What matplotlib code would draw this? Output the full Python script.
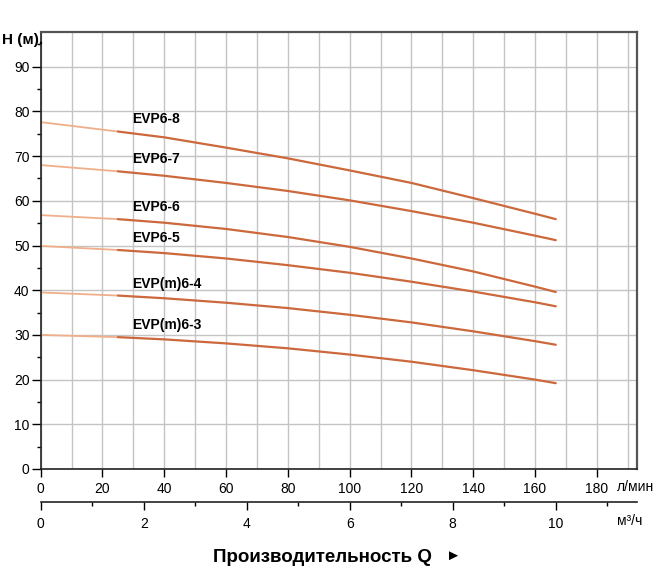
import matplotlib
matplotlib.use("Agg")
import matplotlib.pyplot as plt
from matplotlib.ticker import MultipleLocator

plt.rcParams['font.family'] = ['Liberation Sans', 'DejaVu Sans']

# flow in l/min, heads in m
flow = [0, 25, 40, 60, 80, 100, 120, 140, 160, 166.7]
models = ['EVP6-8', 'EVP6-7', 'EVP6-6', 'EVP6-5', 'EVP(m)6-4', 'EVP(m)6-3']
h_68 = [77.6, 75.5, 74.2, 71.9, 69.5, 66.8, 64.0, 60.6, 57.1, 55.9]
h_67 = [68.0, 66.6, 65.6, 64.0, 62.2, 60.1, 57.7, 55.1, 52.2, 51.2]
h_66 = [56.8, 55.9, 55.1, 53.7, 51.9, 49.7, 47.1, 44.2, 40.8, 39.6]
h_65 = [49.9, 49.0, 48.3, 47.1, 45.6, 43.9, 41.9, 39.7, 37.3, 36.4]
h_64 = [39.5, 38.8, 38.2, 37.2, 36.0, 34.5, 32.8, 30.8, 28.6, 27.8]
h_63 = [30.0, 29.5, 29.0, 28.1, 27.0, 25.6, 24.0, 22.1, 20.0, 19.2]
heads = [h_68, h_67, h_66, h_65, h_64, h_63]

x_ticks = [0, 20, 40, 60, 80, 100, 120, 140, 160, 180]
y_ticks = [0, 10, 20, 30, 40, 50, 60, 70, 80, 90]
m3h_ticks = [0, 2, 4, 6, 8, 10]
LPM_PER_M3H = 1000 / 60

W, H = 661, 575
fig = plt.figure(figsize=(W / 100, H / 100), dpi=100)
ax = fig.add_axes([40.7 / W, 1 - 469 / H, (636.7 - 40.7) / W, (469 - 32.3) / H])
ax.set_xlim(0, 192.9)
ax.set_ylim(0, 97.7)

ax.xaxis.set_minor_locator(MultipleLocator(10))
ax.yaxis.set_minor_locator(MultipleLocator(5))
ax.set_xticks(x_ticks)
ax.set_yticks(y_ticks)
ax.grid(True, which='major', axis='y', color='#c4c4c4', lw=1)
ax.grid(True, which='minor', axis='x', color='#c4c4c4', lw=1)
ax.grid(True, which='major', axis='x', color='#c4c4c4', lw=1)
ax.set_axisbelow(True)

ax.tick_params(axis='x', which='major', direction='out', length=5.8, width=1, labelsize=10, pad=3.5)
ax.tick_params(axis='x', which='minor', length=0)
ax.tick_params(axis='y', which='major', direction='out', length=6.5, width=1, labelsize=10, pad=1.5)
ax.tick_params(axis='y', which='minor', direction='out', length=3, width=1)

for s in ['left', 'bottom']:
    ax.spines[s].set_color('#222222')
    ax.spines[s].set_linewidth(1.2)
for s in ['top', 'right']:
    ax.spines[s].set_color('#555555')
    ax.spines[s].set_linewidth(1.6)

# curves: thin light part before 25 l/min, then darker working range
for name, h in zip(models, heads):
    ax.plot(flow[:2], h[:2], color='#f0ae8a', lw=1.3, solid_capstyle='butt')
    ax.plot(flow[1:], h[1:], color='#cc683c', lw=1.6, solid_capstyle='round')
    ax.text(29.5, h[1] + 2.7, name, fontsize=10, fontweight='bold', va='center', ha='left')

# second flow scale in m3/h
sec = ax.secondary_xaxis(-(502.3 - 469) / (469 - 32.3),
                         functions=(lambda q: q / LPM_PER_M3H, lambda m: m * LPM_PER_M3H))
sec.set_xticks(m3h_ticks)
sec.xaxis.set_minor_locator(MultipleLocator(1))
sec.tick_params(which='major', direction='out', length=5.8, width=1, labelsize=10, pad=5)
sec.tick_params(which='minor', direction='out', length=3, width=1)
sec.spines['bottom'].set_color('#222222')
sec.spines['bottom'].set_linewidth(1.2)

fig.text(617 / W, 1 - 487 / H, 'л/мин', fontsize=10, va='center', ha='left')
fig.text(617 / W, 1 - 521 / H, 'м³/ч', fontsize=10, va='center', ha='left')
fig.text(2 / W, 1 - 40.3 / H, 'H (м).', fontsize=11, fontweight='bold', va='center', ha='left')
fig.text(213 / W, 1 - 557 / H, 'Производительность Q', fontsize=13.5, fontweight='bold',
         va='center', ha='left')
fig.text(445 / W, 1 - 556 / H, '►', fontsize=11, va='center', ha='left')

fig.savefig('out.png', dpi=100)
